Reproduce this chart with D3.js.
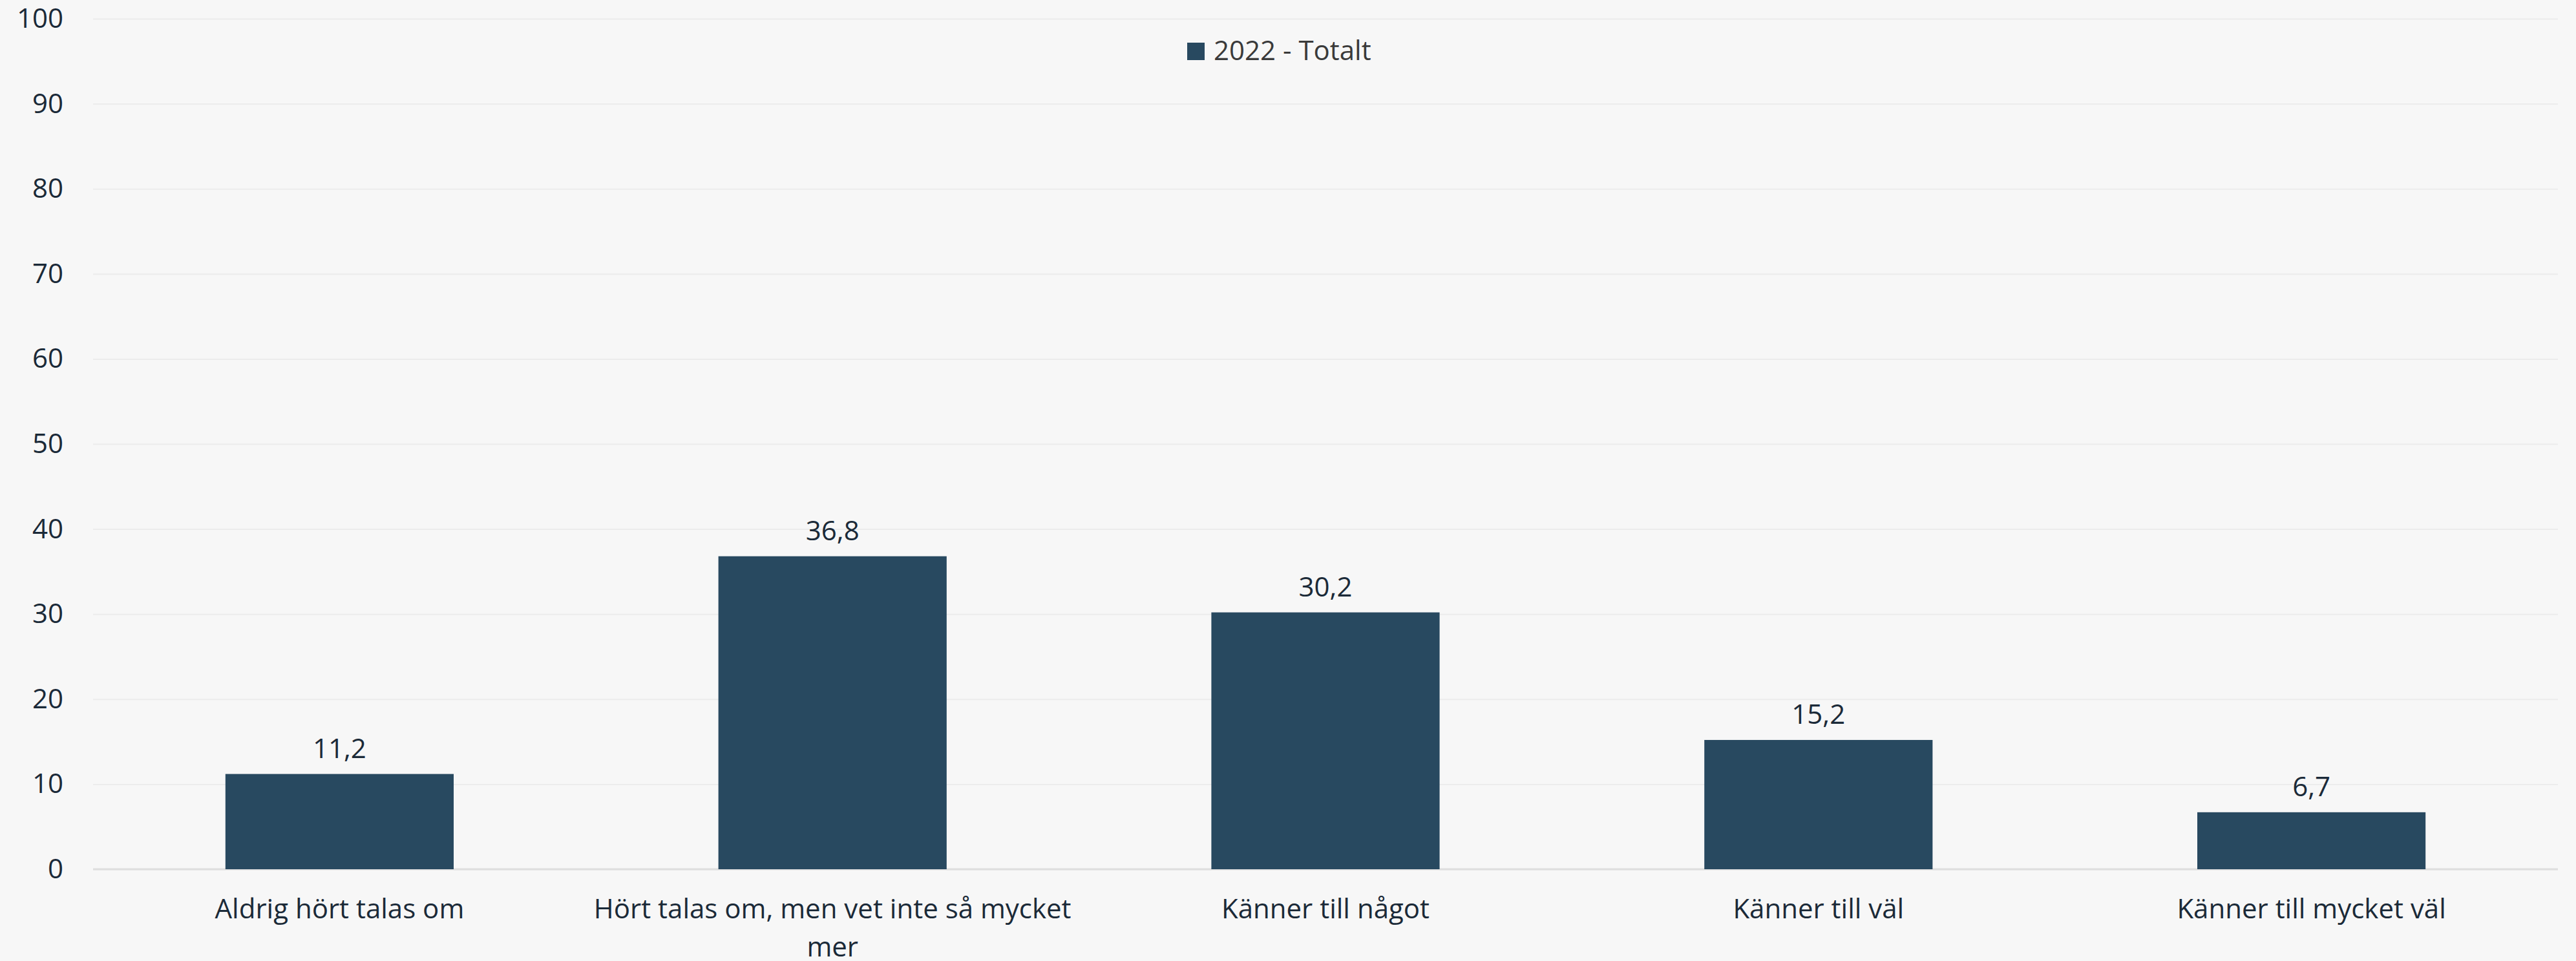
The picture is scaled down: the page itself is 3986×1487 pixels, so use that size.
<!DOCTYPE html>
<html>
<head>
<meta charset="utf-8">
<script src="https://cdn.jsdelivr.net/npm/d3@7"></script>
<style>
  html, body { margin: 0; padding: 0; background: #f7f7f7; }
  svg { display: block; }
  svg text { font-family: "Open Sans", "Noto Sans", sans-serif; }
</style>
</head>
<body>
<svg id="chart"></svg>
<script>
// data
const categories = [
  'Aldrig hört talas om',
  'Hört talas om, men vet inte så mycket mer',
  'Känner till något',
  'Känner till väl',
  'Känner till mycket väl'
];
const values2022 = [11.2, 36.8, 30.2, 15.2, 6.7];
const seriesName = '2022 - Totalt';
const yTicks = [0, 10, 20, 30, 40, 50, 60, 70, 80, 90, 100];

const W = 3986, H = 1487;
const margin = { top: 29, right: 28, bottom: 142, left: 144 };
const width = W - margin.left - margin.right;
const height = H - margin.top - margin.bottom;

const svg = d3.select('#chart').attr('width', W).attr('height', H);
svg.append('rect').attr('width', W).attr('height', H).attr('fill', '#f7f7f7');

const g = svg.append('g').attr('transform', `translate(${margin.left},${margin.top})`);

const x = d3.scaleBand()
  .domain(categories)
  .range([0, width])
  .paddingInner(0.537)
  .paddingOuter(0.2685);

const y = d3.scaleLinear().domain([0, 100]).range([height, 0]);

const sv = d3.formatLocale({ decimal: ',', thousands: ' ', grouping: [3], currency: ['', ' kr'] });
const fmt = sv.format('.1f');

// y axis + gridlines
const yAxis = g.append('g')
  .call(d3.axisLeft(y).tickValues(yTicks).tickSize(-width).tickPadding(46))
  .attr('font-family', null);
yAxis.select('.domain').remove();
yAxis.selectAll('.tick line').attr('stroke', '#ececec').attr('stroke-width', 2);
yAxis.selectAll('.tick text')
  .attr('fill', '#1b2a38')
  .style('font-size', '42px');

// zero line
g.append('line')
  .attr('x1', 0).attr('x2', width)
  .attr('y1', y(0)).attr('y2', y(0))
  .attr('stroke', '#dedede').attr('stroke-width', 3);

// bars
g.selectAll('.bar')
  .data(values2022)
  .enter().append('rect')
  .attr('class', 'bar')
  .attr('x', (d, i) => x(categories[i]))
  .attr('y', d => y(d))
  .attr('width', x.bandwidth())
  .attr('height', d => y(0) - y(d))
  .attr('fill', '#284960');

// value labels
g.selectAll('.val')
  .data(values2022)
  .enter().append('text')
  .attr('class', 'val')
  .attr('x', (d, i) => x(categories[i]) + x.bandwidth() / 2)
  .attr('y', d => y(d) - 25)
  .attr('text-anchor', 'middle')
  .attr('fill', '#1b2a38')
  .style('font-size', '42px')
  .text(d => fmt(d));

// x axis labels
const xAxis = g.append('g')
  .attr('transform', `translate(0,${height})`)
  .call(d3.axisBottom(x).tickSize(0).tickPadding(0))
  .attr('font-family', null);
xAxis.select('.domain').remove();
xAxis.selectAll('.tick text')
  .attr('fill', '#1b2a38')
  .style('font-size', '42px')
  .attr('y', 76)
  .attr('dy', 0)
  .call(wrap, x.step() - 10);

function wrap(texts, maxW) {
  texts.each(function () {
    const text = d3.select(this);
    const words = text.text().split(/\s+/);
    const yy = text.attr('y');
    text.text(null);
    let line = [];
    let lineNo = 0;
    let tspan = text.append('tspan').attr('x', 0).attr('y', yy).attr('dy', 0);
    words.forEach(w => {
      line.push(w);
      tspan.text(line.join(' '));
      if (tspan.node().getComputedTextLength() > maxW && line.length > 1) {
        line.pop();
        tspan.text(line.join(' '));
        line = [w];
        lineNo++;
        tspan = text.append('tspan').attr('x', 0).attr('y', yy)
          .attr('dy', lineNo * 59).text(w);
      }
    });
  });
}

// legend
const leg = svg.append('g').attr('transform', 'translate(1837,66)');
leg.append('rect').attr('width', 27).attr('height', 27).attr('fill', '#284960');
leg.append('text')
  .attr('x', 41).attr('y', 27)
  .attr('fill', '#3a3a3a')
  .style('font-size', '42px')
  .text(seriesName);
</script>
</body>
</html>
